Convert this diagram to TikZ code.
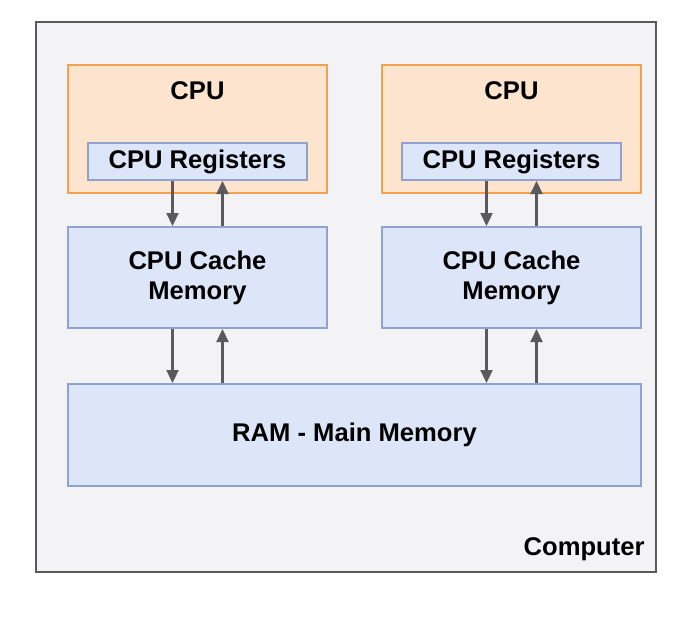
\documentclass[tikz,border=0pt]{standalone}
\usepackage{fontspec}
\setmainfont{Liberation Sans}
\usepackage{xcolor}
\usepackage{tikz}
\usetikzlibrary{arrows.meta, positioning}

\definecolor{pcgray}{HTML}{F3F3F5}
\definecolor{pcline}{HTML}{5A5A5A}
\definecolor{cpufill}{HTML}{FCE4CE}
\definecolor{cpuline}{HTML}{F2A24E}
\definecolor{memfill}{HTML}{DDE6F8}
\definecolor{memline}{HTML}{8EA2D4}

\begin{document}
\begin{tikzpicture}[x=0.5pt, y=-0.5pt]
\tikzstyle{cpubox} = [rectangle, draw=cpuline, line width=1.2pt, fill=cpufill, minimum width=129.5pt, minimum height=64pt, inner sep=0pt]
\tikzstyle{membox} = [rectangle, draw=memline, line width=1pt, fill=memfill, font=\fontsize{12.8}{15}\selectfont\bfseries, align=center, inner sep=0pt]
\tikzstyle{link} = [draw=pcline, line width=1.1pt, -{Triangle[length=6.5pt, width=6pt]}]

\useasboundingbox (0,0) rectangle (700,618);
\node (pc) [rectangle, draw=pcline, line width=1.2pt, fill=pcgray, minimum width=310pt, minimum height=275pt, inner sep=0pt] at (346,297) {};
\node (pclabel) [font=\fontsize{12.8}{15}\selectfont\bfseries, anchor=east, inner sep=0pt] at (645,549) {Computer};

% the two processors
\node (cpuA) [cpubox] at (197.5,129) {};
\node (cpuB) [cpubox] at (511.5,129) {};
\node (cpuAlabel) [font=\fontsize{12.8}{15}\selectfont\bfseries] at (197.5,91) {CPU};
\node (cpuBlabel) [font=\fontsize{12.8}{15}\selectfont\bfseries] at (511.5,91) {CPU};
\node (regA) [membox, minimum width=109.5pt, minimum height=18.5pt] at (197.5,161.5) {CPU Registers};
\node (regB) [membox, minimum width=109.5pt, minimum height=18.5pt] at (511.5,161.5) {CPU Registers};

% caches and main memory
\node (cacheA) [membox, minimum width=129.5pt, minimum height=50.5pt] at (197.5,277.5) {CPU Cache\\Memory};
\node (cacheB) [membox, minimum width=129.5pt, minimum height=50.5pt] at (511.5,277.5) {CPU Cache\\Memory};
\node (ram) [membox, minimum width=286.5pt, minimum height=51pt] at (354.5,435) {RAM - Main Memory};

% data paths
\draw[link] ([xshift=-12.5pt]regA.south) -- ([xshift=-12.5pt]cacheA.north);
\draw[link] ([xshift=12.5pt]cacheA.north) -- ([xshift=12.5pt]regA.south);
\draw[link] ([xshift=-12.5pt]regB.south) -- ([xshift=-12.5pt]cacheB.north);
\draw[link] ([xshift=12.5pt]cacheB.north) -- ([xshift=12.5pt]regB.south);
\draw[link] ([xshift=-12.5pt]cacheA.south) -- ([xshift=-12.5pt]cacheA.south |- ram.north);
\draw[link] ([xshift=12.5pt]cacheA.south |- ram.north) -- ([xshift=12.5pt]cacheA.south);
\draw[link] ([xshift=-12.5pt]cacheB.south) -- ([xshift=-12.5pt]cacheB.south |- ram.north);
\draw[link] ([xshift=12.5pt]cacheB.south |- ram.north) -- ([xshift=12.5pt]cacheB.south);
\end{tikzpicture}
\end{document}
